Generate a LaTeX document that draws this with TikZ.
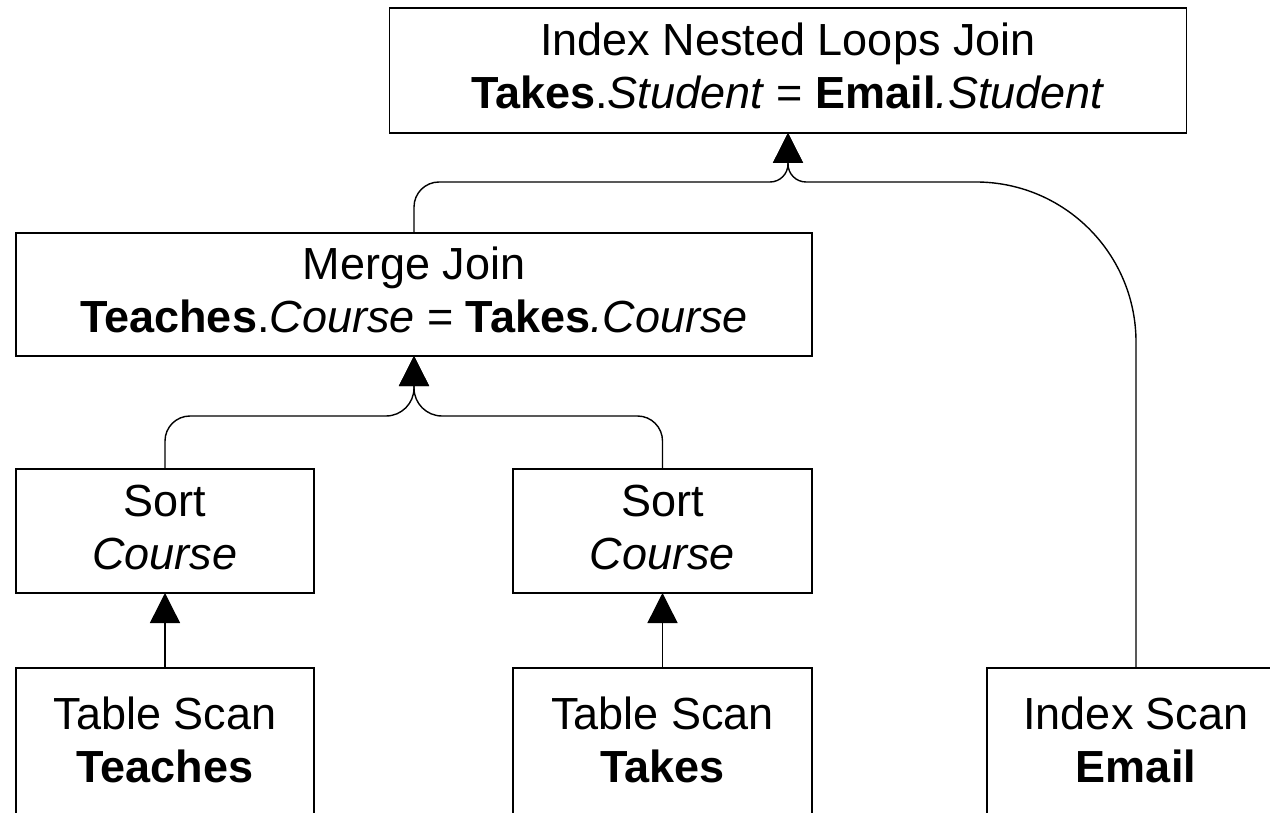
\documentclass[tikz,border=0pt]{standalone}
\usepackage{fontspec}
\setmainfont{Liberation Sans}
\usetikzlibrary{arrows.meta,calc}
\newcommand\liftby[1]{\rule[-#1]{0pt}{1pt}}
\begin{document}
\begin{tikzpicture}[x=1pt,y=1pt,
  opbox/.style={draw=black,line width=1.8pt,inner sep=0pt,outer sep=0pt,align=center,
    font=\fontsize{45}{53}\selectfont},
  conn/.style={draw=black,line width=1.4pt,-{Triangle[length=30pt,width=30pt]}}]
\useasboundingbox (0,0) rectangle (1270,-813);
\fill[white] (0,0) rectangle (1270,-813);
\clip (0,0) rectangle (1270,-813);
% nodes
\node[opbox,minimum width=797pt,minimum height=125pt] (top) at (788,-70.5)
  {Index Nested Loops Join\\\textbf{Takes}.\textit{Student} = \textbf{Email}\textit{.Student}\liftby{10pt}};
\node[opbox,minimum width=796pt,minimum height=123pt] (merge) at (414,-294.5)
  {Merge Join\\\textbf{Teaches}.\textit{Course} = \textbf{Takes}\textit{.Course}\liftby{10pt}};
\node[opbox,minimum width=298pt,minimum height=124pt] (sortL) at (165,-531)
  {Sort\\\textit{Course}\liftby{7pt}};
\node[opbox,minimum width=299pt,minimum height=124pt] (sortR) at (662.5,-531)
  {Sort\\\textit{Course}\liftby{7pt}};
\node[opbox,minimum width=298pt,minimum height=150pt] (scanL) at (165,-743)
  {Table Scan\\\textbf{Teaches}\liftby{7pt}};
\node[opbox,minimum width=299pt,minimum height=150pt] (scanM) at (662.5,-743)
  {Table Scan\\\textbf{Takes}\liftby{7pt}};
\node[opbox,minimum width=298pt,minimum height=150pt] (scanE) at (1136,-743)
  {Index Scan\\\textbf{Email}\liftby{7pt}};
% connectors
\draw[conn] (scanL.north) -- (sortL.south);
\draw[conn] (scanM.north) -- (sortR.south);
\draw[conn] (sortL.north) -- ++(0,28) arc[start angle=180,end angle=90,radius=25pt]
  -- ($(merge.south)+(-28,-60)$) arc[start angle=270,end angle=360,radius=28pt] -- (merge.south);
\draw[conn] (sortR.north) -- ++(0,28) arc[start angle=0,end angle=90,radius=25pt]
  -- ($(merge.south)+(28,-60)$) arc[start angle=270,end angle=180,radius=28pt] -- (merge.south);
\draw[conn] (merge.north) -- ++(0,26) arc[start angle=180,end angle=90,radius=25pt]
  -- ($(top.south)+(-18,-49)$) arc[start angle=270,end angle=360,radius=18pt] -- (top.south);
\draw[conn] (scanE.north) -- ++(0,326) arc[start angle=0,end angle=90,radius=160pt]
  -- ($(top.south)+(18,-49)$) arc[start angle=270,end angle=180,radius=18pt] -- (top.south);
\end{tikzpicture}
\end{document}
